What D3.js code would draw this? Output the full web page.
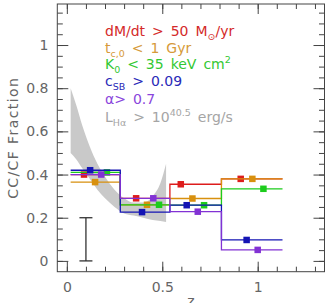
<!DOCTYPE html>
<html><head><meta charset="utf-8">
<script src="https://cdn.jsdelivr.net/npm/d3@7/dist/d3.min.js"></script>
<style>body{margin:0;background:#fff}svg{display:block}</style>
</head><body><svg id="c" width="330" height="303"></svg>
<script>
// ---- data ----
const binEdges = [0.02, 0.28, 0.54, 0.81, 1.13];
const mdotVals  = [0.40, 0.29, 0.355, 0.38];
const mdotZ     = [0.09, 0.363, 0.597, 0.911];
const tcoolVals = [0.365, 0.26, 0.289, 0.38];
const tcoolZ    = [0.148, 0.42, 0.658, 0.972];
const k0Vals    = [0.41, 0.26, 0.258, 0.334];
const k0Z       = [0.21, 0.483, 0.719, 1.03];
const csbVals   = [0.42, 0.226, 0.258, 0.097];
const csbZ      = [0.122, 0.394, 0.628, 0.942];
const alphaVals = [0.40, 0.29, 0.228, 0.051];
const alphaZ    = [0.18, 0.453, 0.686, 1.0];
const bandZ  = [0.02, 0.05, 0.08, 0.12, 0.16, 0.20, 0.25, 0.30, 0.35, 0.40, 0.45, 0.49, 0.52];
const bandHi = [0.80, 0.72, 0.63, 0.53, 0.45, 0.39, 0.33, 0.29, 0.27, 0.27, 0.30, 0.36, 0.45];
const bandLo = [0.50, 0.47, 0.43, 0.38, 0.33, 0.29, 0.25, 0.22, 0.21, 0.20, 0.19, 0.185, 0.18];
const errZ = 0.1, errLo = 0.0, errHi = 0.2;
const xMajor = [0, 0.5, 1];
const yMajor = [0, 0.2, 0.4, 0.6, 0.8, 1];
const xLabel = "z";
const yLabel = "CC/CF Fraction";
const legendLines = [
  [["dM/dt > 50 M",""],["⊙","sub"],["/yr",""]],
  [["t",""],["c,0","sub"],[" < 1 Gyr",""]],
  [["K",""],["0","sub"],[" < 35 keV cm",""],["2","sup"]],
  [["c",""],["SB","sub"],[" > 0.09",""]],
  [["α> 0.7",""]],
  [["L",""],["Hα","sub"],[" > 10",""],["40.5","sup"],[" erg/s",""]]
];

// ---- styles ----
const series = [
  {vals: mdotVals, z: mdotZ, color: "#dd1c1c"},
  {vals: tcoolVals, z: tcoolZ, color: "#d8900e"},
  {vals: k0Vals, z: k0Z, color: "#1ccc1c"},
  {vals: csbVals, z: csbZ, color: "#1414b4"},
  {vals: alphaVals, z: alphaZ, color: "#8232d4"}
];
const legendColors = ["#d42a2a", "#d69a3a", "#33c833", "#2a2ab8", "#8a45dc", "#a5a5a5"];
const legendBase = [36, 53, 69, 86, 104, 122];

const L = 57.3, R = 324.5, T = 4, B = 271.7;
const x = d3.scaleLinear().domain([-0.05, 1.35]).range([L, R]);
const y = d3.scaleLinear().domain([-0.05, 1.19]).range([B, T]);
const svg = d3.select("#c");
const FONT = "DejaVu Sans, sans-serif";
const AX = "#444";
const TXT = "#666";

// band
svg.append("path")
  .datum(bandZ.map((z, i) => ({z, lo: bandLo[i], hi: bandHi[i]})))
  .attr("fill", "#c9c9c9")
  .attr("d", d3.area().x(d => x(d.z)).y0(d => y(d.lo)).y1(d => y(d.hi)).curve(d3.curveMonotoneX));

// error bar
const eb = svg.append("g").attr("stroke", "#333").attr("stroke-width", 1.3);
eb.append("line").attr("x1", x(errZ)).attr("x2", x(errZ)).attr("y1", y(errLo)).attr("y2", y(errHi));
[errLo, errHi].forEach(v => eb.append("line").attr("x1", x(errZ) - 6.5).attr("x2", x(errZ) + 6.5).attr("y1", y(v)).attr("y2", y(v)));

// series
const step = d3.line().x(d => x(d[0])).y(d => y(d[1])).curve(d3.curveStepAfter);
series.forEach(s => {
  const pts = binEdges.map((e, i) => [e, s.vals[Math.min(i, s.vals.length - 1)]]);
  svg.append("path").datum(pts).attr("fill", "none").attr("stroke", s.color)
    .attr("stroke-width", 1.3).attr("d", step);
  const ms = 6.5;
  svg.append("g").selectAll("rect").data(s.vals).join("rect")
    .attr("x", (v, i) => x(s.z[i]) - ms / 2).attr("y", v => y(v) - ms / 2)
    .attr("width", ms).attr("height", ms).attr("fill", s.color);
});

// axes: ticks inward
const xMinor = d3.range(0, 1.35, 0.1).map(v => +v.toFixed(2));
const yMinor = d3.range(-0.0, 1.19, 0.05).map(v => +v.toFixed(2));
function styleAxis(g) {
  g.select(".domain").remove();
  g.selectAll("line").attr("stroke", AX).attr("stroke-width", 1);
  g.selectAll("text").attr("font-family", FONT).attr("font-size", 14).attr("fill", TXT);
}
svg.append("g").attr("transform", `translate(0,${B})`)
  .call(d3.axisBottom(x).tickValues(xMinor).tickSize(-5).tickFormat("")).call(styleAxis);
svg.append("g").attr("transform", `translate(0,${B})`)
  .call(d3.axisBottom(x).tickValues(xMajor).tickSize(-10).tickPadding(10.4).tickFormat(d3.format("~g"))).call(styleAxis);
svg.append("g").attr("transform", `translate(0,${T})`)
  .call(d3.axisTop(x).tickValues(xMinor).tickSize(-5).tickFormat("")).call(styleAxis);
svg.append("g").attr("transform", `translate(0,${T})`)
  .call(d3.axisTop(x).tickValues(xMajor).tickSize(-10).tickFormat("")).call(styleAxis);
svg.append("g").attr("transform", `translate(${L},0)`)
  .call(d3.axisLeft(y).tickValues(yMinor).tickSize(-5.5).tickFormat("")).call(styleAxis);
svg.append("g").attr("transform", `translate(${L},0)`)
  .call(d3.axisLeft(y).tickValues(yMajor).tickSize(-11).tickPadding(8.8).tickFormat(d3.format("~g"))).call(styleAxis);
svg.append("g").attr("transform", `translate(${R},0)`)
  .call(d3.axisRight(y).tickValues(yMinor).tickSize(-5.5).tickFormat("")).call(styleAxis);
svg.append("g").attr("transform", `translate(${R},0)`)
  .call(d3.axisRight(y).tickValues(yMajor).tickSize(-11).tickFormat("")).call(styleAxis);

// frame
svg.append("rect").attr("x", L).attr("y", T).attr("width", R - L).attr("height", B - T)
  .attr("fill", "none").attr("stroke", AX).attr("stroke-width", 1);

// axis titles
svg.append("text").attr("x", (L + R) / 2).attr("y", 305.5).attr("text-anchor", "middle")
  .attr("font-family", FONT).attr("font-size", 14).attr("fill", TXT).text(xLabel);
svg.append("text").attr("transform", `translate(18,${(T + B) / 2}) rotate(-90)`)
  .attr("text-anchor", "middle").attr("font-family", FONT).attr("font-size", 14)
  .attr("letter-spacing", 1.4).attr("fill", TXT).text(yLabel);

// legend
legendLines.forEach((segs, i) => {
  const t = svg.append("text").attr("x", 105).attr("y", legendBase[i])
    .attr("font-family", FONT).attr("font-size", 14).attr("word-spacing", 2.5)
    .attr("fill", legendColors[i]);
  let shift = 0;
  segs.forEach(([txt, kind]) => {
    const target = kind === "sub" ? 3.5 : kind === "sup" ? -6 : 0;
    t.append("tspan").attr("dy", target - shift)
      .attr("font-size", kind ? 9.5 : 14).text(txt);
    shift = target;
  });
});
</script></body></html>
